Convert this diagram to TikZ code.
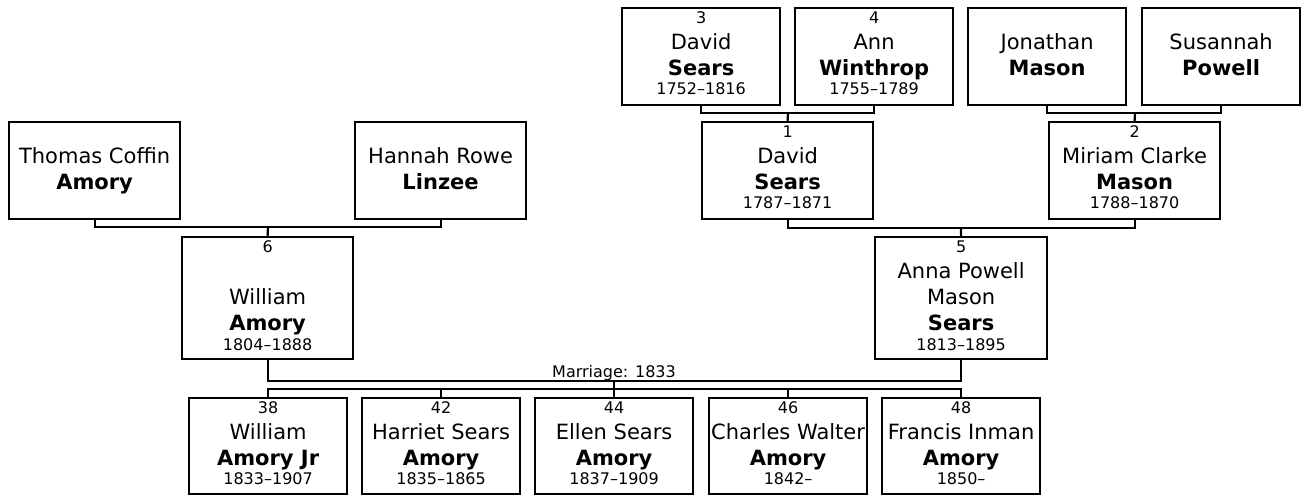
\documentclass[tikz,border=0pt]{standalone}
\usepackage{fontspec}
\setmainfont{DejaVu Sans}
\begin{document}
\begin{tikzpicture}[x=1pt,y=-1pt,
  pbox/.style={draw, line width=2.2pt, inner sep=0pt, fill=white, anchor=north west},
  top/.style={pbox, minimum width=158pt, minimum height=97pt},
  mid/.style={pbox, minimum width=171pt, minimum height=97pt},
  tall/.style={pbox, minimum width=171pt, minimum height=122pt},
  kid/.style={pbox, minimum width=158pt, minimum height=96pt},
  nm/.style={anchor=base, inner sep=0pt, font=\fontsize{21}{25}\selectfont},
  sn/.style={anchor=base, inner sep=0pt, font=\fontsize{21}{25}\selectfont\bfseries},
  sm/.style={anchor=base, inner sep=0pt, font=\fontsize{16}{19}\selectfont},
  link/.style={line width=2.2pt}]
\useasboundingbox[fill=white] (0,0) rectangle (1306,496);

\newcommand\fourline[5]{%
  \node[sm] (#1n) at ([yshift=-16pt]#1.north) {#2};
  \node[nm] (#1g) at ([yshift=-42pt]#1.north) {#3};
  \node[sn] (#1s) at ([yshift=-68pt]#1.north) {#4};
  \node[sm] (#1d) at ([yshift=-87pt]#1.north) {#5};}
\newcommand\twoline[3]{%
  \node[nm] (#1g) at ([yshift=-42pt]#1.north) {#2};
  \node[sn] (#1s) at ([yshift=-68pt]#1.north) {#3};}

% top row
\node[top] (p3) at (621,7) {};
\node[top] (p4) at (794,7) {};
\node[top] (pj) at (967,7) {};
\node[top] (ps) at (1141,7) {};
\fourline{p3}{3}{David}{Sears}{1752–1816}
\fourline{p4}{4}{Ann}{Winthrop}{1755–1789}
\twoline{pj}{Jonathan}{Mason}
\twoline{ps}{Susannah}{Powell}

% middle row
\node[mid] (pt) at (8,121) {};
\node[mid] (ph) at (354,121) {};
\node[mid] (p1) at (701,121) {};
\node[mid] (p2) at (1048,121) {};
\twoline{pt}{Thomas Coffin}{Amory}
\twoline{ph}{Hannah Rowe}{Linzee}
\fourline{p1}{1}{David}{Sears}{1787–1871}
\fourline{p2}{2}{Miriam Clarke}{Mason}{1788–1870}

% parents
\node[tall] (p6) at (181,236) {};
\node[tall, minimum width=172pt] (p5) at (874,236) {};
\node[sm] (p6n) at ([yshift=-16pt]p6.north) {6};
\node[nm] (p6g) at ([yshift=-68pt]p6.north) {William};
\node[sn] (p6s) at ([yshift=-94pt]p6.north) {Amory};
\node[sm] (p6d) at ([yshift=-114pt]p6.north) {1804–1888};
\node[sm] (p5n) at ([yshift=-16pt]p5.north) {5};
\node[nm] (p5g) at ([yshift=-42pt]p5.north) {Anna Powell};
\node[nm] (p5m) at ([yshift=-68pt]p5.north) {Mason};
\node[sn] (p5s) at ([yshift=-94pt]p5.north) {Sears};
\node[sm] (p5d) at ([yshift=-114pt]p5.north) {1813–1895};

% children
\node[kid] (c38) at (188,397) {};
\node[kid] (c42) at (361,397) {};
\node[kid] (c44) at (534,397) {};
\node[kid] (c46) at (708,397) {};
\node[kid] (c48) at (881,397) {};
\fourline{c38}{38}{William}{Amory Jr}{1833–1907}
\fourline{c42}{42}{Harriet Sears}{Amory}{1835–1865}
\fourline{c44}{44}{Ellen Sears}{Amory}{1837–1909}
\fourline{c46}{46}{Charles Walter}{Amory}{1842–}
\fourline{c48}{48}{Francis Inman}{Amory}{1850–}

% connectors
\coordinate (j34) at (788,113);
\coordinate (jjs) at (1135,113);
\coordinate (jth) at (268,227);
\coordinate (j12) at (961,228);
\coordinate (jm) at (614,381);
\coordinate (jb) at (614,389);
\draw[link] (p3.south) |- (j34) -| (p4.south);
\draw[link] (j34) -- (p1.north);
\draw[link] (pj.south) |- (jjs) -| (ps.south);
\draw[link] (jjs) -- (p2.north);
\draw[link] (pt.south) |- (jth) -| (ph.south);
\draw[link] (jth) -- (p6.north);
\draw[link] (p1.south) |- (j12) -| (p2.south);
\draw[link] (j12) -- (p5.north);
\draw[link] (p6.south) |- (jm) -| (p5.south);
\node[sm] (mlabel) at (614,377) {Marriage: 1833};
\draw[link] (jm) -- (jb);
\draw[link] (c38.north) |- (jb) -| (c48.north);
\draw[link] (c42.north) -- (c42.north |- jb);
\draw[link] (c44.north) -- (c44.north |- jb);
\draw[link] (c46.north) -- (c46.north |- jb);
\end{tikzpicture}
\end{document}
